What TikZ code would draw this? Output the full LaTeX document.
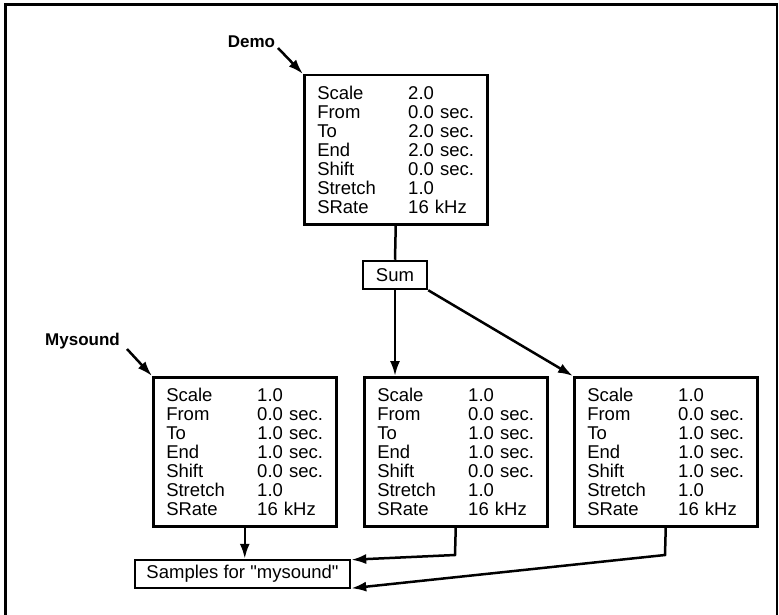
\documentclass[tikz,border=0pt]{standalone}
\usepackage{fontspec}
\setmainfont{Liberation Sans}
\usetikzlibrary{arrows.meta,calc}
\newcommand{\rowl}[2]{\makebox[91pt][l]{#1}#2}
\begin{document}
\begin{tikzpicture}[x=1pt,y=-1pt,
  databox/.style={draw,line width=2.5pt,anchor=north west,inner xsep=13pt,inner ysep=0pt,
    text width=157pt,align=left,minimum height=149pt,font=\fontsize{18.5}{19}\selectfont},
  smallbox/.style={draw,line width=2.5pt,inner sep=0pt,minimum height=28pt,font=\fontsize{18.5}{19}\selectfont},
  lbl/.style={font=\bfseries\fontsize{17}{19}\selectfont,inner sep=0pt},
  conn/.style={line width=2.5pt},
  arr/.style={line width=2.5pt,-{Latex[length=15pt,width=10pt]}},
  frame/.style={line width=2.5pt}]
\useasboundingbox (0,0) rectangle (779,615);
\draw[frame] (5.5,615) -- (5.5,4.5) -- (777,4.5) -- (777,615);

\node[databox] (demo) at (303,74) {\rowl{Scale}{2.0}\\\rowl{From}{0.0 sec.}\\\rowl{To}{2.0 sec.}\\\rowl{End}{2.0 sec.}\\\rowl{Shift}{0.0 sec.}\\\rowl{Stretch}{1.0}\\\rowl{SRate}{16 kHz}};
\node[smallbox,minimum width=64pt] (sum) at (395,275) {Sum};

\node[databox] (mys) at (152,376) {\rowl{Scale}{1.0}\\\rowl{From}{0.0 sec.}\\\rowl{To}{1.0 sec.}\\\rowl{End}{1.0 sec.}\\\rowl{Shift}{0.0 sec.}\\\rowl{Stretch}{1.0}\\\rowl{SRate}{16 kHz}};
\node[databox] (mid) at (363,376) {\rowl{Scale}{1.0}\\\rowl{From}{0.0 sec.}\\\rowl{To}{1.0 sec.}\\\rowl{End}{1.0 sec.}\\\rowl{Shift}{0.0 sec.}\\\rowl{Stretch}{1.0}\\\rowl{SRate}{16 kHz}};
\node[databox] (rgt) at (573,376) {\rowl{Scale}{1.0}\\\rowl{From}{0.0 sec.}\\\rowl{To}{1.0 sec.}\\\rowl{End}{1.0 sec.}\\\rowl{Shift}{1.0 sec.}\\\rowl{Stretch}{1.0}\\\rowl{SRate}{16 kHz}};

\node[smallbox,minimum width=215pt] (samp) at (242.5,574) {Samples for \textquotedbl mysound\textquotedbl};

\node[lbl] (demolbl) at (251.5,42) {Demo};
\node[lbl] (myslbl) at (82.5,341) {Mysound};
\coordinate (demotail) at (278,48);
\coordinate (mystail) at (127,349);
\coordinate (midbend) at (455,555);
\coordinate (rgtbend) at (665,555);

\draw[arr] (demotail) -- (demo.north west);
\draw[arr] (mystail) -- (mys.north west);
\draw[conn] (demo.south) -- (sum.north);
\draw[arr] (sum.south) -- (sum.south |- mid.north);
\draw[arr] (sum.south east) -- (rgt.north west);
\draw[arr] (mys.south) -- (samp.north -| mys.south);
\draw[arr] (mid.south) -- (midbend) -- ($(samp.north east)+(0,1)$);
\draw[arr] (rgt.south) -- (rgtbend) -- ($(samp.south east)+(0,-1)$);
\end{tikzpicture}
\end{document}
